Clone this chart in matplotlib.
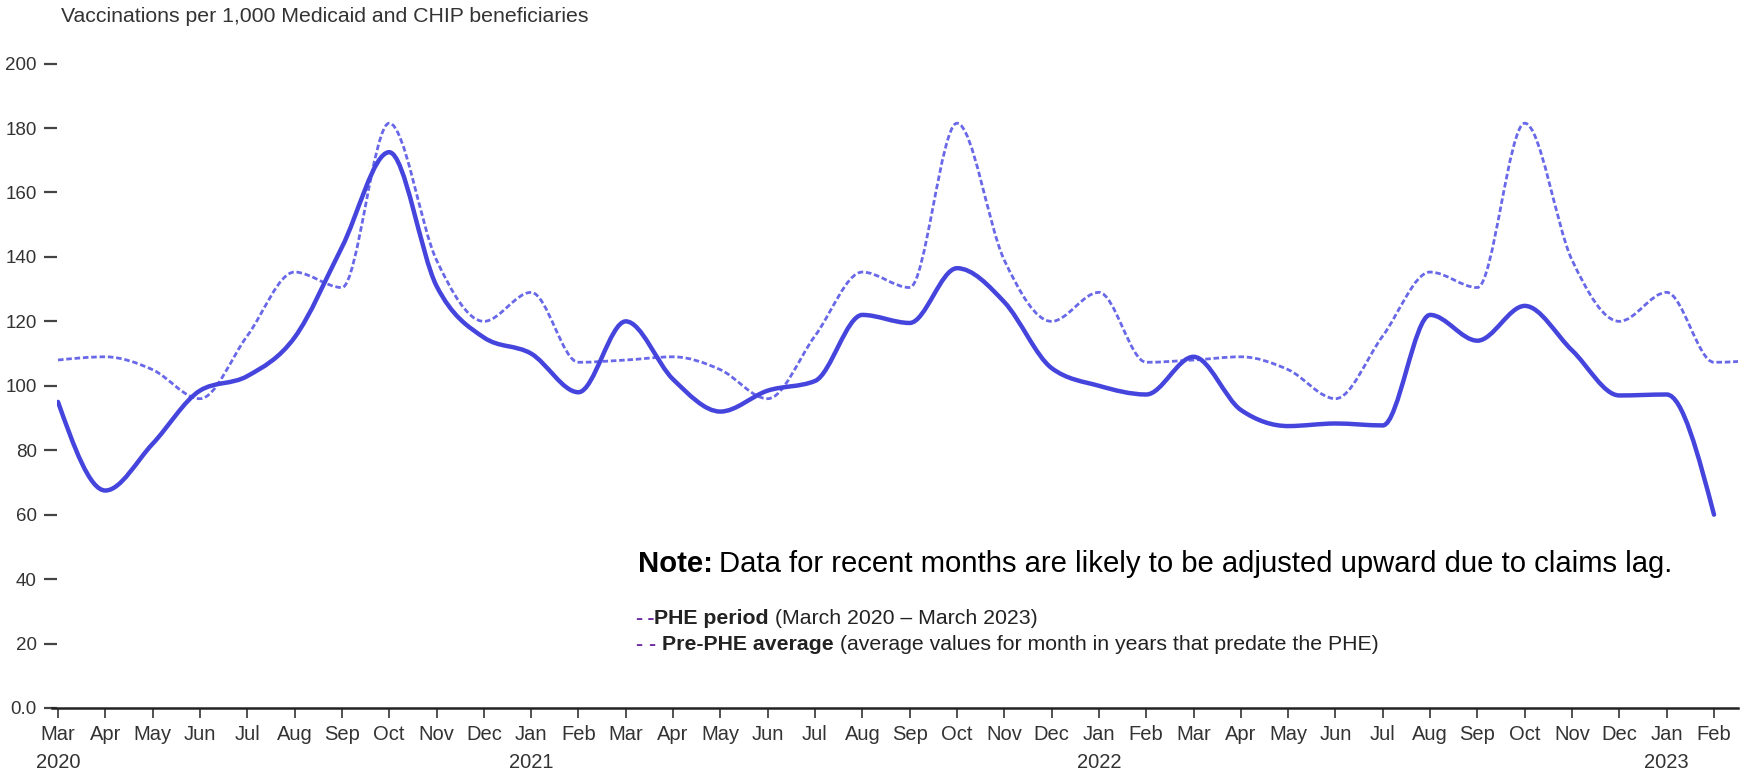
import numpy as np
import matplotlib
matplotlib.use("Agg")
import matplotlib.pyplot as plt
from matplotlib.path import Path
from matplotlib.patches import PathPatch
from matplotlib.transforms import blended_transform_factory

plt.rcParams['font.family'] = ['Liberation Sans', 'DejaVu Sans']

# ---------------- data ----------------
months = ["Mar", "Apr", "May", "Jun", "Jul", "Aug", "Sep", "Oct", "Nov", "Dec", "Jan", "Feb",
          "Mar", "Apr", "May", "Jun", "Jul", "Aug", "Sep", "Oct", "Nov", "Dec", "Jan", "Feb",
          "Mar", "Apr", "May", "Jun", "Jul", "Aug", "Sep", "Oct", "Nov", "Dec", "Jan", "Feb"]
year_labels = {0: "2020", 10: "2021", 22: "2022", 34: "2023"}

phe = [95, 67.5, 82, 98.5, 103, 115, 143, 172.5, 131, 115, 110, 98,
       120, 102, 92, 98.5, 101.5, 122, 119.5, 136.5, 126, 105.5, 100, 97.3,
       109, 92.5, 87.5, 88.3, 87.7, 122, 114, 124.8, 111, 97, 97.3, 60]

pre_phe = [108, 109, 105, 96, 115.5, 135.3, 130.5, 181.5, 139, 120, 129, 107.3,
           108, 109, 105, 96, 115.5, 135.3, 130.5, 181.5, 139, 120, 129, 107.3,
           108, 109, 105, 96, 115.5, 135.3, 130.5, 181.5, 139, 120, 129, 107.3,
           108]

yticks = [0, 20, 40, 60, 80, 100, 120, 140, 160, 180, 200]
ytick_labels = ["0.0", "20", "40", "60", "80", "100", "120", "140", "160", "180", "200"]


def monotone_path(xs, ys):
    """Bezier path like d3.curveMonotoneX through the data points."""
    xs = np.asarray(xs, float)
    ys = np.asarray(ys, float)
    n = len(xs)
    h = np.diff(xs)
    s = np.diff(ys) / h
    t = np.zeros(n)
    for i in range(1, n - 1):
        s0, s1 = s[i - 1], s[i]
        p = (s0 * h[i] + s1 * h[i - 1]) / (h[i - 1] + h[i])
        t[i] = (np.sign(s0) + np.sign(s1)) * min(abs(s0), abs(s1), 0.5 * abs(p))
    t[0] = (3 * s[0] - t[1]) / 2
    t[-1] = (3 * s[-1] - t[-2]) / 2
    verts = [(xs[0], ys[0])]
    codes = [Path.MOVETO]
    for i in range(n - 1):
        dx = h[i] / 3
        verts += [(xs[i] + dx, ys[i] + dx * t[i]),
                  (xs[i + 1] - dx, ys[i + 1] - dx * t[i + 1]),
                  (xs[i + 1], ys[i + 1])]
        codes += [Path.CURVE4] * 3
    return Path(verts, codes)


W, H = 1749, 771
fig = plt.figure(figsize=(W / 100, H / 100), dpi=100)
left_px, right_px, top_px, bottom_px = 57, 1738, 63.6, 708
px_per_month = (1714 - 58) / 35.0
x_left = (left_px - 58) / px_per_month
x_right = (right_px - 58) / px_per_month
ax = fig.add_axes([left_px / W, 1 - bottom_px / H, (right_px - left_px) / W, (bottom_px - top_px) / H])

x_phe = np.arange(len(phe))
x_pre = np.arange(len(pre_phe))

pre_patch = PathPatch(monotone_path(x_pre, pre_phe), fill=False, edgecolor="#5858e6",
                      lw=2.0, linestyle=(0, (2.0, 1.0)), alpha=0.9, capstyle='butt')
ax.add_patch(pre_patch)
phe_patch = PathPatch(monotone_path(x_phe, phe), fill=False, edgecolor="#4545dd",
                      lw=3.2, capstyle='round', joinstyle='round')
ax.add_patch(phe_patch)

ax.set_xlim(x_left, x_right)
ax.set_ylim(0, 200)

for sp in ["top", "right", "left"]:
    ax.spines[sp].set_visible(False)
ax.spines["bottom"].set_color("#222222")
ax.spines["bottom"].set_linewidth(1.8)
ax.spines["bottom"].set_bounds((52 - 58) / px_per_month, x_right)

ax.set_yticks(yticks)
ax.set_yticklabels(ytick_labels)
ax.tick_params(axis='y', length=9.5, width=1.6, color="#444444", pad=5,
               labelsize=13.5, labelcolor="#333333")

ax.set_xticks(x_phe)
ax.set_xticklabels(months)
ax.tick_params(axis='x', length=7, width=1.2, color="#333333", pad=5,
               labelsize=14.5, labelcolor="#333333")

trans = blended_transform_factory(ax.transData, fig.transFigure)
for idx, lab in year_labels.items():
    ax.text(idx, 1 - 762 / H, lab, transform=trans, ha='center', va='center',
            fontsize=14.5, color="#333333")

fig.text(61 / W, 1 - 17 / H, "Vaccinations per 1,000 Medicaid and CHIP beneficiaries",
         ha='left', va='center', fontsize=15.3, color="#333333")

renderer = fig.canvas.get_renderer()

# note
note_bold = fig.text(638 / W, 1 - 564 / H, "Note:", ha='left', va='center', fontsize=21.1,
                     color="black", fontweight='bold')
bb = note_bold.get_window_extent(renderer)
fig.text((bb.x1 + 6) / W, 1 - 564 / H,
         "Data for recent months are likely to be adjusted upward due to claims lag.",
         ha='left', va='center', fontsize=21.1, color="black")

# legend-like text
purple = "#7030a0"
leg_items = [
    (619, "-\u2009-", "PHE period", " (March 2020 \u2013 March 2023)"),
    (644, "- - ", "Pre-PHE average", " (average values for month in years that predate the PHE)"),
]
for ypx, dash, bold, rest in leg_items:
    t1 = fig.text(636 / W, 1 - ypx / H, dash, ha='left', va='center', fontsize=15.3,
                  color=purple, fontweight='bold')
    b1 = t1.get_window_extent(renderer)
    t2 = fig.text(b1.x1 / W, 1 - ypx / H, bold, ha='left', va='center', fontsize=15.3,
                  color="#222222", fontweight='bold')
    b2 = t2.get_window_extent(renderer)
    fig.text(b2.x1 / W, 1 - ypx / H, rest, ha='left', va='center', fontsize=15.3,
             color="#222222")

fig.savefig("out.png", dpi=100)
